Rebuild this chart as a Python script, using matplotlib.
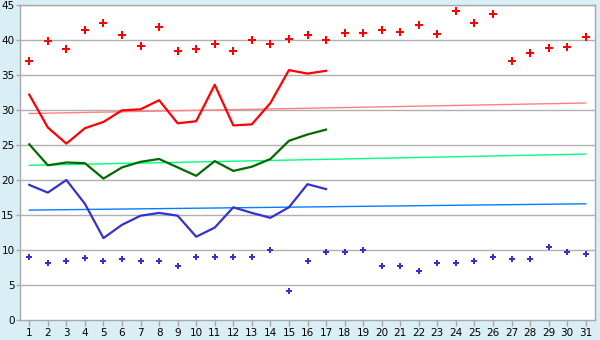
import matplotlib
matplotlib.use("Agg")
import matplotlib.pyplot as plt
import numpy as np

days = list(range(1, 32))

record_high = [37.0, 39.8, 38.7, 41.5, 42.5, 40.7, 39.1, 41.8, 38.4, 38.7,
               39.4, 38.4, 40.0, 39.5, 40.1, 40.7, 40.0, 40.95, 40.95, 41.4,
               41.1, 42.2, 40.8, 44.2, 42.4, 43.7, 37.0, 38.1, 38.8, 38.95, 40.4]
record_low = [8.95, 8.2, 8.5, 8.8, 8.4, 8.7, 8.5, 8.4, 7.7, 8.95,
              8.95, 8.95, 8.95, 9.95, 4.1, 8.4, 9.7, 9.7, 9.95, 7.7,
              7.7, 6.95, 8.2, 8.1, 8.4, 8.95, 8.7, 8.7, 10.5, 9.7, 9.4]

obs_days = list(range(1, 18))
high = [32.2, 27.5, 25.2, 27.4, 28.3, 29.95, 30.1, 31.4, 28.1, 28.4,
        33.6, 27.8, 27.95, 31.0, 35.7, 35.2, 35.6]
mean = [25.1, 22.1, 22.5, 22.4, 20.2, 21.8, 22.6, 23.0, 21.8, 20.6,
        22.7, 21.3, 21.9, 23.0, 25.6, 26.5, 27.2]
low = [19.3, 18.2, 20.0, 16.6, 11.7, 13.6, 14.9, 15.3, 14.9, 11.9,
       13.2, 16.1, 15.3, 14.6, 16.1, 19.4, 18.7]

norm_high = [29.5, 31.0]
norm_mean = [22.1, 23.7]
norm_low = [15.7, 16.6]
norm_days = [1, 31]

yticks = list(range(0, 50, 5))

bg = "#DAEFF5"
fig = plt.figure(figsize=(6, 3.4), dpi=100, facecolor=bg)
ax = fig.add_axes([20/600, 20/340, 575/600, 315/340])
ax.set_facecolor("white")

for y in yticks[1:]:
    ax.axhline(y, color="#B0B0B0", lw=1.0, zorder=0)

ax.plot(norm_days, norm_high, color="#FF8080", lw=1.0, zorder=2)
ax.plot(norm_days, norm_mean, color="#00FF80", lw=1.0, zorder=2)
ax.plot(norm_days, norm_low, color="#0080FF", lw=1.0, zorder=2)

ax.plot(obs_days, high, color="#FF0000", lw=1.6, zorder=3)
ax.plot(obs_days, mean, color="#006A00", lw=1.6, zorder=3)
ax.plot(obs_days, low, color="#3333CC", lw=1.6, zorder=3)

ax.plot(days, record_high, ls="none", marker="P", ms=5.5, color="#FF0000",
        markeredgewidth=0, zorder=4)
ax.plot(days, record_low, ls="none", marker="P", ms=5, color="#3333CC",
        markeredgewidth=0, zorder=4)

ax.set_xlim(0.5, 31.5)
ax.set_ylim(0, 45)
ax.set_xticks(days)
ax.set_xticklabels([str(d) for d in days])
ax.set_yticks(yticks)
ax.set_yticklabels([str(y) for y in yticks])
for s in ax.spines.values():
    s.set_color("#A8A8A8")
    s.set_linewidth(1.0)
ax.tick_params(axis="both", colors="#A8A8A8", labelcolor="black",
               labelsize=7.5, width=1)
ax.tick_params(axis="y", length=3, pad=1)
ax.tick_params(axis="x", length=4, pad=2)

fig.savefig("out.png", dpi=100, facecolor=bg)
